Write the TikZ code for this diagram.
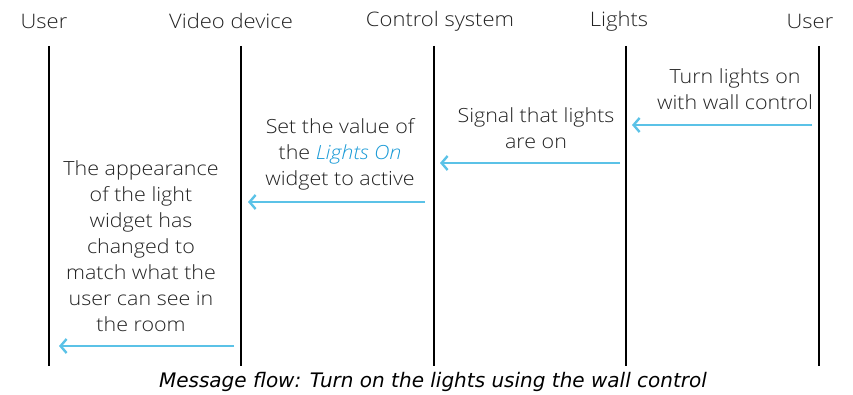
\documentclass[tikz,border=0pt]{standalone}
\usepackage{fontspec}
\setmainfont{Open Sans}[UprightFont=* Light, ItalicFont=* Light Italic, FakeStretch=1.1]
\newfontfamily\capfont{DejaVu Sans}
\usetikzlibrary{arrows.meta}
\definecolor{arrowblue}{HTML}{5BC2E7}
\definecolor{linkblue}{HTML}{1A9AD6}
\definecolor{txt}{HTML}{222222}
\tikzset{
  lifeline/.style={line width=1.8pt, black},
  msg/.style={line width=2.4pt, arrowblue, -{Straight Barb[length=6pt,width=14pt,line width=2.4pt]}},
  head/.style={font=\fontsize{20}{22}\selectfont, text=txt, inner sep=0pt},
  body/.style={font=\fontsize{19.5}{26}\selectfont, text=txt, align=center, inner sep=0pt},
  captext/.style={font=\capfont\itshape\fontsize{20}{22}\selectfont, text=black, inner sep=0pt},
}
\begin{document}
\begin{tikzpicture}[x=1pt,y=-1pt]
\useasboundingbox (0,0) rectangle (853,395);
\foreach \n/\x/\t in {u1/44/User, vd/231/Video device, cs/440/Control system, li/619/Lights, u2/810/User}{
  \node[head] (h\n) at (\x,21) {\t};
}
\foreach \n/\x in {u1/49, vd/241, cs/434, li/626, u2/819}{
  \coordinate (t\n) at (\x,46);
  \coordinate (b\n) at (\x,366);
  \draw[lifeline] (t\n) -- (b\n);
}
\coordinate (a1s) at (812,125); \coordinate (a1e) at (632,125);
\coordinate (a2s) at (620,163); \coordinate (a2e) at (440,163);
\coordinate (a3s) at (425,202); \coordinate (a3e) at (248,202);
\coordinate (a4s) at (234,346); \coordinate (a4e) at (59,346);
\draw[msg] (a1s) -- (a1e);
\draw[msg] (a2s) -- (a2e);
\draw[msg] (a3s) -- (a3e);
\draw[msg] (a4s) -- (a4e);
\node[body] (m1) at (735,89) {Turn lights on\\with wall control};
\node[body] (m2) at (536,128) {Signal that lights\\are on};
\node[body] (m3) at (340,154) {Set the value of\\the \textcolor{linkblue}{\itshape Lights On}\\widget to active};
\node[body] (m4) at (141,246) {The appearance\\of the light\\widget has\\changed to\\match what the\\user can see in\\the room};
\node[captext] (cap) at (433,382) {Message flow: Turn on the lights using the wall control};
\end{tikzpicture}
\end{document}
